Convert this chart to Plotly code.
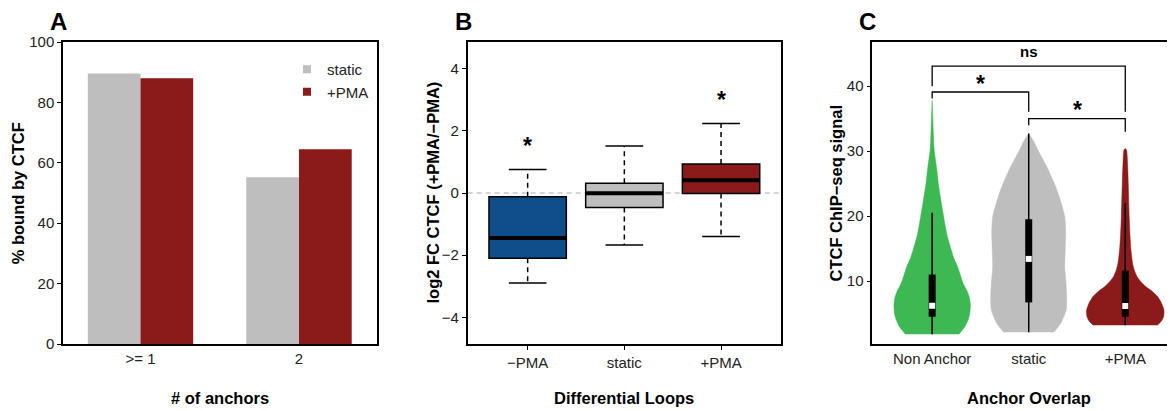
import plotly.graph_objects as go

OFF = 8  # browser body margin
W, H = 1175 - OFF, 411 - OFF
FONT = "Liberation Sans, Arial, Helvetica, sans-serif"
TICKCOL = "#222222"

# ---------------- Panel A data ----------------
anchor_groups = [">= 1", "2"]
pct_static = [89.6, 55.2]
pct_pma = [88.0, 64.5]

# ---------------- Panel B data ----------------
loop_groups = ["\u2212PMA", "static", "+PMA"]
fc_lower = [-2.9, -1.67, -1.4]
fc_q1 = [-2.1, -0.47, -0.02]
fc_median = [-1.45, -0.01, 0.41]
fc_q3 = [-0.12, 0.31, 0.93]
fc_upper = [0.76, 1.51, 2.24]
fc_star_y = [1.6, None, 3.08]

# ---------------- Panel C data ----------------
overlap_groups = ["Non Anchor", "static", "+PMA"]
# violin outlines: signal level and half-width (x units)
na_y = [1.8, 2.5, 3.0, 4.0, 5.0, 6.3, 7.5, 8.5, 9.6, 11.0, 12.2, 13.5, 14.8, 17.0,
        19.9, 22.5, 25.0, 27.5, 30.2, 33.0, 35.5, 37.8]
na_hw = [0.277, 0.315, 0.340, 0.372, 0.390, 0.396, 0.385, 0.360, 0.321, 0.290, 0.264,
         0.225, 0.197, 0.155, 0.119, 0.090, 0.064, 0.045, 0.021, 0.012, 0.006, 0.0]
st_y = [2.1, 3.5, 5.5, 7.1, 9.6, 12.2, 14.8, 17.5, 19.9, 22.5, 25.0, 27.6, 30.2, 31.5, 32.7]
st_hw = [0.259, 0.332, 0.387, 0.394, 0.387, 0.373, 0.378, 0.383, 0.373, 0.326, 0.266,
         0.187, 0.093, 0.052, 0.0]
pma_y = [3.2, 3.8, 4.5, 5.5, 6.5, 7.6, 8.4, 9.1, 10.0, 10.7, 11.7, 12.7, 14.8, 17.0,
         19.9, 25.0, 28.0, 30.2, 30.4]
pma_hw = [0.332, 0.373, 0.397, 0.401, 0.378, 0.335, 0.280, 0.215, 0.155, 0.121, 0.093,
          0.076, 0.059, 0.049, 0.041, 0.031, 0.024, 0.013, 0.0]
sig_min = [1.8, 2.1, 3.2]
sig_q1 = [4.5, 6.7, 4.5]
sig_median = [6.2, 13.4, 6.15]
sig_q3 = [11.0, 19.5, 11.6]
sig_max = [20.5, 32.7, 22.0]

bracket_left = [0, 0, 1]
bracket_right = [1, 2, 2]
bracket_top = [39.1, 43.08, 35.0]
bracket_left_bottom = [38.1, 40.0, 34.0]
bracket_right_bottom = [36.05, 36.05, 33.0]
bracket_label = ["*", "ns", "*"]
bracket_label_y = [40.9, 45.4, 36.9]

C_GREY = "#BEBEBE"
C_RED = "#8B1A1A"
C_BLUE = "#104E8B"
C_GREEN = "#3DB853"
violin_colors = [C_GREEN, C_GREY, C_RED]


def px_x(p):
    return (p - OFF) / W


def px_y(p):
    return 1 - (p - OFF) / H


fig = go.Figure()

# ---- Panel A bars ----
fig.add_trace(go.Bar(x=[0, 1], y=pct_static, marker=dict(color=C_GREY, line=dict(width=0)),
                     showlegend=False, xaxis="x", yaxis="y", offsetgroup="s"))
fig.add_trace(go.Bar(x=[0, 1], y=pct_pma, marker=dict(color=C_RED, line=dict(width=0)),
                     showlegend=False, xaxis="x", yaxis="y", offsetgroup="p"))
# legend keys
fig.add_trace(go.Scatter(x=[None], y=[None], mode="markers", name="static",
                         marker=dict(symbol="square", size=8, color=C_GREY), xaxis="x", yaxis="y"))
fig.add_trace(go.Scatter(x=[None], y=[None], mode="markers", name="+PMA",
                         marker=dict(symbol="square", size=8, color=C_RED), xaxis="x", yaxis="y"))

# ---- Panel B boxes ----
box_cols = [C_BLUE, C_GREY, C_RED]
cap_half = 0.195
for i in range(3):
    fig.add_trace(go.Box(x=[i], q1=[fc_q1[i]], median=[fc_median[i]], q3=[fc_q3[i]],
                         lowerfence=[fc_q1[i]], upperfence=[fc_q3[i]], width=0.8,
                         fillcolor=box_cols[i], line=dict(color="black", width=1.5),
                         showlegend=False, xaxis="x2", yaxis="y2", hoverinfo="skip"))
    # whiskers (dashed)
    fig.add_trace(go.Scatter(x=[i, i, None, i, i], y=[fc_q3[i], fc_upper[i], None, fc_q1[i], fc_lower[i]],
                             mode="lines", line=dict(color="black", width=1.5, dash="5px,4px"),
                             showlegend=False, xaxis="x2", yaxis="y2", hoverinfo="skip"))
    # caps
    fig.add_trace(go.Scatter(x=[i - cap_half, i + cap_half, None, i - cap_half, i + cap_half],
                             y=[fc_upper[i], fc_upper[i], None, fc_lower[i], fc_lower[i]],
                             mode="lines", line=dict(color="black", width=1.5),
                             showlegend=False, xaxis="x2", yaxis="y2", hoverinfo="skip"))
    # median
    fig.add_trace(go.Scatter(x=[i - 0.4, i + 0.4], y=[fc_median[i], fc_median[i]],
                             mode="lines", line=dict(color="black", width=4),
                             showlegend=False, xaxis="x2", yaxis="y2", hoverinfo="skip"))

# ---- Panel C violins ----
profiles = [(na_y, na_hw), (st_y, st_hw), (pma_y, pma_hw)]
for i, (vy, vw) in enumerate(profiles):
    xs = [i - w for w in vw] + [i + w for w in reversed(vw)]
    ys = list(vy) + list(reversed(vy))
    fig.add_trace(go.Scatter(x=xs, y=ys, mode="lines", fill="toself", fillcolor=violin_colors[i],
                             line=dict(color=violin_colors[i], width=0.5, shape="spline", smoothing=0.6),
                             showlegend=False, xaxis="x3", yaxis="y3", hoverinfo="skip"))
    fig.add_trace(go.Scatter(x=[i, i], y=[sig_min[i], sig_max[i]], mode="lines",
                             line=dict(color="black", width=1.5),
                             showlegend=False, xaxis="x3", yaxis="y3", hoverinfo="skip"))
    fig.add_trace(go.Scatter(x=[i, i], y=[sig_q1[i], sig_q3[i]], mode="lines",
                             line=dict(color="black", width=7),
                             showlegend=False, xaxis="x3", yaxis="y3", hoverinfo="skip"))
    fig.add_trace(go.Scatter(x=[i], y=[sig_median[i]], mode="markers",
                             marker=dict(symbol="square", size=6, color="white", line=dict(width=0)),
                             showlegend=False, xaxis="x3", yaxis="y3", hoverinfo="skip"))

# brackets
for k in range(3):
    l, r = bracket_left[k], bracket_right[k]
    fig.add_trace(go.Scatter(x=[l, l, r, r],
                             y=[bracket_left_bottom[k], bracket_top[k], bracket_top[k], bracket_right_bottom[k]],
                             mode="lines", line=dict(color="black", width=1.3),
                             showlegend=False, xaxis="x3", yaxis="y3", hoverinfo="skip"))

annotations = []
# stars for panel C brackets
for k in range(3):
    is_star = bracket_label[k] == "*"
    annotations.append(dict(x=(bracket_left[k] + bracket_right[k]) / 2, y=bracket_label_y[k],
                            xref="x3", yref="y3", text="<b>%s</b>" % bracket_label[k],
                            showarrow=False, yanchor="middle",
                            yshift=-4 if is_star else 0,
                            font=dict(family=FONT, size=23 if is_star else 15, color="black")))
# stars panel B
for i in range(3):
    if fc_star_y[i] is not None:
        annotations.append(dict(x=i, y=fc_star_y[i], xref="x2", yref="y2", text="<b>*</b>",
                                showarrow=False, yanchor="middle", yshift=-3,
                                font=dict(family=FONT, size=23, color="black")))

# panel letters
for letter, lx in [("A", 58.3), ("B", 463.3), ("C", 867.7)]:
    annotations.append(dict(x=px_x(lx), y=px_y(21.7), xref="paper", yref="paper",
                            text="<b>%s</b>" % letter, showarrow=False,
                            xanchor="center", yanchor="middle",
                            font=dict(family=FONT, size=24, color="black")))

# axis titles
title_font = dict(family=FONT, size=16.5, color="black")
for txt, cx in [("# of anchors", 220), ("Differential Loops", 624.5), ("Anchor Overlap", 1029)]:
    annotations.append(dict(x=px_x(cx), y=px_y(398), xref="paper", yref="paper",
                            text="<b>%s</b>" % txt, showarrow=False, xanchor="center",
                            yanchor="middle", font=title_font))
for txt, cx in [("% bound by CTCF", 18.3), ("log2 FC CTCF (+PMA/\u2212PMA)", 432.5),
                ("CTCF ChIP\u2212seq signal", 835.5)]:
    annotations.append(dict(x=px_x(cx), y=px_y(193), xref="paper", yref="paper",
                            text="<b>%s</b>" % txt, showarrow=False, xanchor="center",
                            yanchor="middle", textangle=-90, font=title_font))

ydom = [px_y(344), px_y(42)]
tickfont = dict(family=FONT, size=15, color=TICKCOL)
axis_common = dict(showline=True, linecolor="black", linewidth=1.5, showgrid=False,
                   zeroline=False, tickfont=tickfont, tickcolor="black", tickwidth=1.2,
                   automargin=False)

fig.update_layout(
    width=W, height=H, margin=dict(l=0, r=0, t=0, b=0, pad=0, autoexpand=False),
    paper_bgcolor="white", plot_bgcolor="white",
    barmode="group", bargap=0.335, bargroupgap=0,
    font=dict(family=FONT, color="black"),
    showlegend=True,
    legend=dict(x=px_x(287), y=px_y(53), xanchor="left", yanchor="top",
                bgcolor="rgba(0,0,0,0)", font=dict(family=FONT, size=15, color=TICKCOL),
                tracegroupgap=0, itemsizing="trace"),
    xaxis=dict(domain=[px_x(63), px_x(377)], range=[-0.489, 1.492], tickvals=[0, 1],
               ticktext=anchor_groups, ticks="", mirror=True, anchor="y", **axis_common),
    yaxis=dict(domain=ydom, range=[0, 100], tickvals=[0, 20, 40, 60, 80, 100],
               ticks="outside", ticklen=4, mirror=True, anchor="x", **axis_common),
    xaxis2=dict(domain=[px_x(467.7), px_x(781)], range=[-0.62, 2.62], tickvals=[0, 1, 2],
                ticktext=loop_groups, ticks="outside", ticklen=4, mirror=True, anchor="y2",
                **axis_common),
    yaxis2=dict(domain=ydom, range=[-4.86, 4.86], tickvals=[-4, -2, 0, 2, 4],
                ticktext=["\u22124", "\u22122", "0", "2", "4"],
                ticks="outside", ticklen=4, mirror=True, anchor="x2", **axis_common),
    xaxis3=dict(domain=[px_x(872.3), 1.0], range=[-0.62, 2.515], tickvals=[0, 1, 2],
                ticktext=overlap_groups, ticks="", mirror=True, anchor="y3", **axis_common),
    yaxis3=dict(domain=ydom, range=[0.3, 46.8], tickvals=[10, 20, 30, 40],
                ticks="outside", ticklen=4, mirror=False, anchor="x3", **axis_common),
    annotations=annotations,
    shapes=[dict(type="line", xref="x2 domain", yref="y2", x0=0, x1=1, y0=0, y1=0,
                 line=dict(color="#AAAAAA", width=1, dash="5px,4px"), layer="below")],
)

fig.write_html("out.html")
